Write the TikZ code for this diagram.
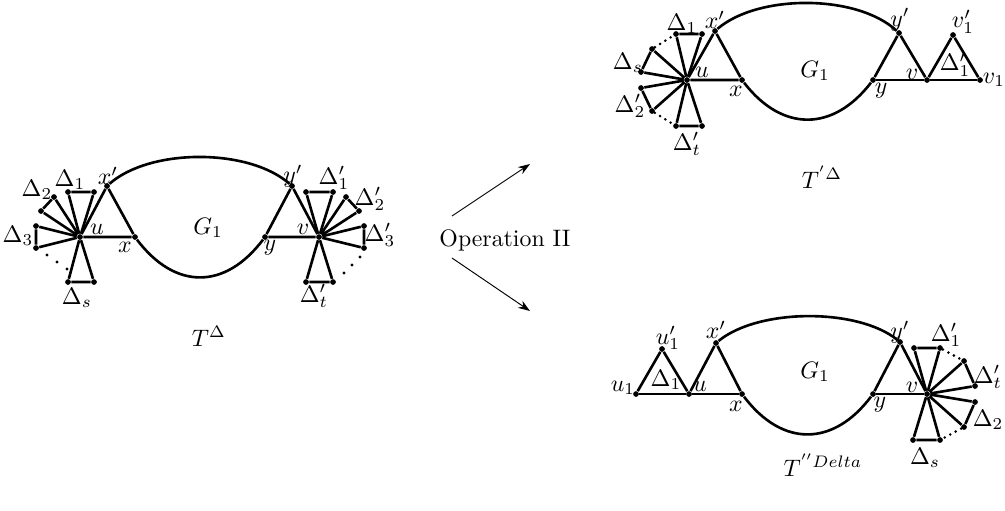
\documentclass[tikz,border=0pt]{standalone}
\usetikzlibrary{arrows.meta}
\begin{document}
\begin{tikzpicture}[x=0.42pt,y=-0.42pt,
 vtx/.style={circle,fill,inner sep=0pt,minimum size=2.4pt},
 edge/.style={line width=1.1pt},
 lbl/.style={inner sep=0pt},
 dotl/.style={line width=1.2pt,dash pattern=on 0pt off 2.6pt,line cap=round},
 arr/.style={line width=0.4pt,-{Stealth[length=5pt,width=3.5pt]}}]
\useasboundingbox (0,0) rectangle (1005,510);

% ---------- left figure ----------
\node[vtx] (Lu) at (80,237) {};
\node[vtx] (Lx) at (135,237) {};
\node[vtx] (Lxp) at (107,186) {};
\node[vtx] (Lv) at (319,237) {};
\node[vtx] (Ly) at (265,237) {};
\node[vtx] (Lyp) at (292,186) {};
\node[vtx] (La1) at (68,192) {};
\node[vtx] (Lb1) at (94,192) {};
\node[vtx] (La2) at (54,197) {};
\node[vtx] (Lb2) at (41,211) {};
\node[vtx] (La3) at (36,226) {};
\node[vtx] (Lb3) at (36,248) {};
\node[vtx] (Las) at (68,282) {};
\node[vtx] (Lbs) at (94,282) {};
\node[vtx] (Lc1) at (306,192) {};
\node[vtx] (Ld1) at (333,192) {};
\node[vtx] (Lc2) at (346,197) {};
\node[vtx] (Ld2) at (359,211) {};
\node[vtx] (Lc3) at (364,226) {};
\node[vtx] (Ld3) at (364,248) {};
\node[vtx] (Lct) at (306,282) {};
\node[vtx] (Ldt) at (333,282) {};

\draw[edge] (Lu) -- (Lx) -- (Lxp) -- (Lu);
\draw[edge] (Lv) -- (Ly) -- (Lyp) -- (Lv);
\draw[edge] (Lxp) .. controls (150,148) and (249,148) .. (Lyp);
\draw[edge] (Lx) .. controls (175,290) and (225,290) .. (Ly);
\draw[edge] (Lu) -- (La1) -- (Lb1) -- (Lu);
\draw[edge] (Lu) -- (La2) -- (Lb2) -- (Lu);
\draw[edge] (Lu) -- (La3) -- (Lb3) -- (Lu);
\draw[edge] (Lu) -- (Las) -- (Lbs) -- (Lu);
\draw[edge] (Lv) -- (Lc1) -- (Ld1) -- (Lv);
\draw[edge] (Lv) -- (Lc2) -- (Ld2) -- (Lv);
\draw[edge] (Lv) -- (Lc3) -- (Ld3) -- (Lv);
\draw[edge] (Lv) -- (Lct) -- (Ldt) -- (Lv);
\foreach \p in {(47,255),(57,262),(67,269),(360,257),(352,265),(344,273)}
  \fill \p circle (0.7pt);

\node[lbl] (lLa1) at (70,180) {$\Delta_1$};
\node[lbl] (lLa2) at (37,190) {$\Delta_2$};
\node[lbl] (lLa3) at (18,236) {$\Delta_3$};
\node[lbl] (lLas) at (77,298) {$\Delta_s$};
\node[lbl] (lLu) at (97,229) {$u$};
\node[lbl] (lLx) at (125,247) {$x$};
\node[lbl] (lLxp) at (108,176) {$x'$};
\node[lbl] (lLc1) at (334,178) {$\Delta'_1$};
\node[lbl] (lLc2) at (370,199) {$\Delta'_2$};
\node[lbl] (lLc3) at (380,235) {$\Delta'_3$};
\node[lbl] (lLct) at (314,296) {$\Delta'_t$};
\node[lbl] (lLv) at (303,229) {$v$};
\node[lbl] (lLy) at (270,248) {$y$};
\node[lbl] (lLyp) at (293,176) {$y'$};
\node[lbl] (lLG) at (208,228) {$G_1$};
\node[lbl] (lLT) at (209,336) {$T^{\Delta}$};

% ---------- arrows ----------
\coordinate (ar1s) at (452,216);
\coordinate (ar1e) at (530,164);
\coordinate (ar2s) at (452,258);
\coordinate (ar2e) at (530,311);
\draw[arr] (ar1s) -- (ar1e);
\draw[arr] (ar2s) -- (ar2e);
\node[lbl] (op) at (505,240) {Operation II};

% ---------- top right figure ----------
\node[vtx] (Au) at (687,80) {};
\node[vtx] (Ax) at (742,80) {};
\node[vtx] (Axp) at (715,31) {};
\node[vtx] (Ay) at (873,80) {};
\node[vtx] (Ayp) at (899,33) {};
\node[vtx] (Av) at (927,80) {};
\node[vtx] (Av1) at (980,80) {};
\node[vtx] (Av1p) at (953,35) {};
\node[vtx] (Aa1) at (676,34) {};
\node[vtx] (Ab1) at (702,34) {};
\node[vtx] (Aas) at (652,49) {};
\node[vtx] (Abs) at (641,72) {};
\node[vtx] (Aa2) at (641,88) {};
\node[vtx] (Ab2) at (652,111) {};
\node[vtx] (Aat) at (676,126) {};
\node[vtx] (Abt) at (702,126) {};

\draw[edge] (Au) -- (Ax) -- (Axp) -- (Au);
\draw[edge] (Ay) -- (Av) -- (Av1);
\draw[edge] (Ay) -- (Ayp) -- (Av) -- (Av1p) -- (Av1);
\draw[edge] (Axp) .. controls (758,-6) and (857,-6) .. (Ayp);
\draw[edge] (Ax) .. controls (782,132) and (833,132) .. (Ay);
\draw[edge] (Au) -- (Aa1) -- (Ab1) -- (Au);
\draw[edge] (Au) -- (Aas) -- (Abs) -- (Au);
\draw[edge] (Au) -- (Aa2) -- (Ab2) -- (Au);
\draw[edge] (Au) -- (Aat) -- (Abt) -- (Au);
\draw[dotl] (Aas) -- (Aa1);
\draw[dotl] (Ab2) -- (Aat);

\node[lbl] (lAa1) at (682,24) {$\Delta_1$};
\node[lbl] (lAas) at (628,63) {$\Delta_s$};
\node[lbl] (lAa2) at (630,106) {$\Delta'_2$};
\node[lbl] (lAat) at (687,144) {$\Delta'_t$};
\node[lbl] (lAu) at (702,72) {$u$};
\node[lbl] (lAx) at (736,91) {$x$};
\node[lbl] (lAxp) at (715,20) {$x'$};
\node[lbl] (lAG) at (815,71) {$G_1$};
\node[lbl] (lAy) at (881,91) {$y$};
\node[lbl] (lAyp) at (900,20) {$y'$};
\node[lbl] (lAv) at (912,74) {$v$};
\node[lbl] (lAD) at (955,65) {$\Delta'_1$};
\node[lbl] (lAv1p) at (963,22) {$v'_1$};
\node[lbl] (lAv1) at (994,80) {$v_1$};
\node[lbl] (lAT) at (822,177) {$T^{'\Delta}$};

% ---------- bottom right figure ----------
\node[vtx] (Bu1) at (636,394) {};
\node[vtx] (Bu1p) at (662,349) {};
\node[vtx] (Bu) at (689,394) {};
\node[vtx] (Bxp) at (716,343) {};
\node[vtx] (Bx) at (742,394) {};
\node[vtx] (By) at (873,394) {};
\node[vtx] (Byp) at (900,342) {};
\node[vtx] (Bv) at (927,394) {};
\node[vtx] (Bc1) at (914,348) {};
\node[vtx] (Bd1) at (940,348) {};
\node[vtx] (Bct) at (964,361) {};
\node[vtx] (Bdt) at (975,386) {};
\node[vtx] (Bc2) at (975,402) {};
\node[vtx] (Bd2) at (964,427) {};
\node[vtx] (Bcs) at (913,440) {};
\node[vtx] (Bds) at (940,440) {};

\draw[edge] (Bu1) -- (Bu) -- (Bx);
\draw[edge] (Bu1) -- (Bu1p) -- (Bu) -- (Bxp) -- (Bx);
\draw[edge] (By) -- (Bv);
\draw[edge] (By) -- (Byp) -- (Bv);
\draw[edge] (Bxp) .. controls (759,308) and (858,308) .. (Byp);
\draw[edge] (Bx) .. controls (782,447) and (833,447) .. (By);
\draw[edge] (Bv) -- (Bc1) -- (Bd1) -- (Bv);
\draw[edge] (Bv) -- (Bct) -- (Bdt) -- (Bv);
\draw[edge] (Bv) -- (Bc2) -- (Bd2) -- (Bv);
\draw[edge] (Bv) -- (Bcs) -- (Bds) -- (Bv);
\draw[dotl] (Bd1) -- (Bct);
\draw[dotl] (Bd2) -- (Bds);

\node[lbl] (lBu1) at (623,388) {$u_1$};
\node[lbl] (lBu1p) at (668,338) {$u'_1$};
\node[lbl] (lBD) at (666,380) {$\Delta_1$};
\node[lbl] (lBu) at (700,386) {$u$};
\node[lbl] (lBxp) at (716,330) {$x'$};
\node[lbl] (lBx) at (736,406) {$x$};
\node[lbl] (lBG) at (815,372) {$G_1$};
\node[lbl] (lBy) at (880,405) {$y$};
\node[lbl] (lByp) at (900,332) {$y'$};
\node[lbl] (lBv) at (912,387) {$v$};
\node[lbl] (lBc1) at (946,335) {$\Delta'_1$};
\node[lbl] (lBct) at (988,377) {$\Delta'_t$};
\node[lbl] (lBc2) at (988,420) {$\Delta_2$};
\node[lbl] (lBcs) at (925,458) {$\Delta_s$};
\node[lbl] (lBT) at (823,465) {$T^{''Delta}$};
\end{tikzpicture}
\end{document}
